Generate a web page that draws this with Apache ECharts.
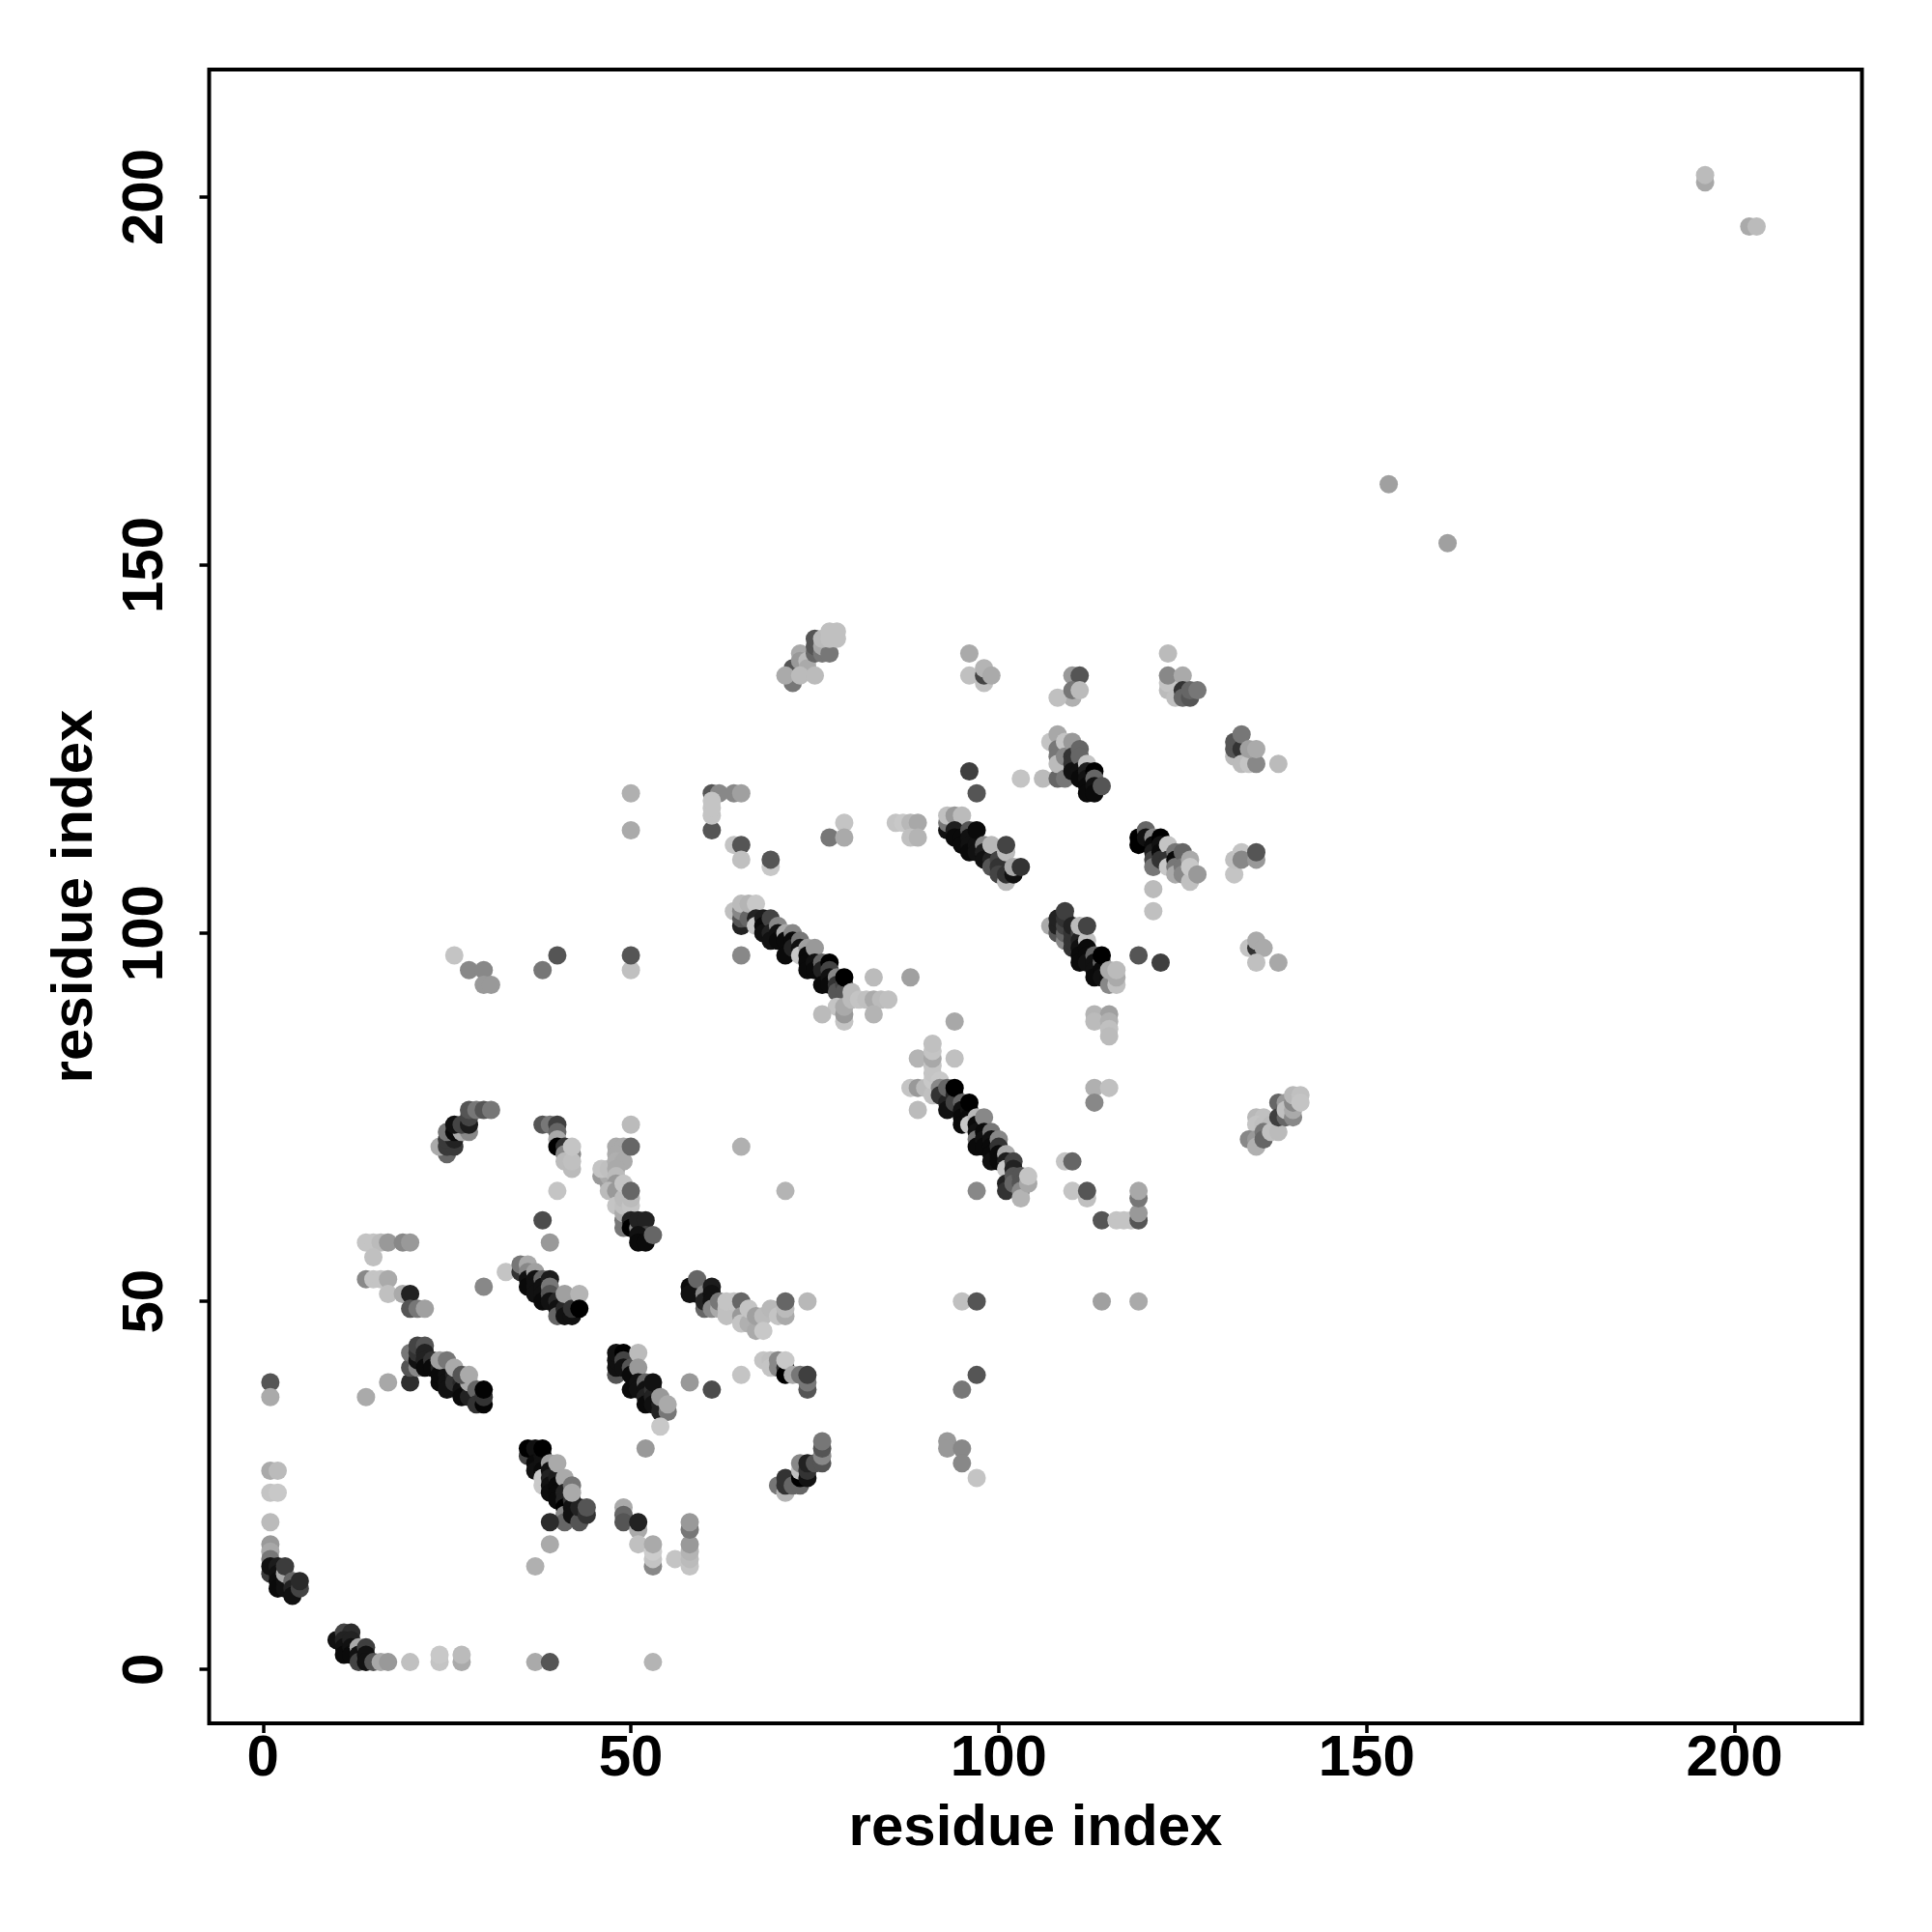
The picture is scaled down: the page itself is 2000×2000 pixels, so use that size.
<!DOCTYPE html>
<html><head><meta charset="utf-8">
<script src="https://cdn.jsdelivr.net/npm/echarts@6/dist/echarts.min.js"></script>
<style>html,body{margin:0;padding:0;background:#fff}#c{width:2000px;height:2000px}</style>
</head><body><div id="c"></div>
<script>
// each entry: residue x, residue y, grey level
const tickValues = [0, 50, 100, 150, 200];
const axisName = "residue index";
const clusterOrigin = [[1,39,85],[1,37,170],[14,37,170],[17,39,168],[1,27,170],[2,27,187],[1,24,196],[2,24,200],[1,20,187],[1,17,153],[1,16,168],[1,15,119],[1,13,60],[1,14,17],[2,14,28],[2,13,17],[2,12,12],[2,11,10],[3,12,17],[3,11,17],[3,13,170],[3,14,60],[4,12,102],[4,11,34],[4,10,17],[5,11,68],[5,12,42]];
const clusterStart = [[10,4,17],[11,5,68],[12,5,44],[11,4,34],[11,3,17],[11,2,10],[12,4,34],[12,3,17],[12,2,10],[13,3,170],[13,2,17],[13,1,68],[14,3,63],[14,2,17],[14,1,17],[15,1,85],[16,1,168],[17,1,153],[20,1,192],[24,1,196],[24,2,200],[27,1,170],[27,2,187],[37,1,170],[39,1,85],[53,1,180]];
const clusterA = [[20,39,46],[20,41,85],[20,43,119],[21,41,136],[21,42,17],[21,43,51],[21,44,68],[22,44,85],[22,43,34],[22,42,34],[22,41,10],[23,42,51],[23,41,10],[24,41,34],[24,39,10],[24,40,10],[25,40,17],[25,39,17],[26,38,200],[25,38,17],[26,40,34],[26,39,51],[27,39,40],[27,38,17],[27,37,10],[28,38,10],[28,37,34],[24,42,160],[25,42,119],[26,41,170],[28,39,170],[27,40,85],[28,40,170],[29,38,102],[29,36,51],[30,36,5],[30,37,51],[30,38,3]];
const clusterB = [[25,70,102],[24,71,170],[25,71,58],[26,71,58],[25,72,58],[26,72,34],[25,73,119],[26,73,10],[27,73,170],[28,73,136],[26,74,17],[27,74,68],[28,74,28],[28,75,68],[28,76,85],[29,76,119],[30,76,85],[31,76,119]];
const clusterC = [[38,74,85],[39,74,119],[40,74,63],[40,73,102],[40,72,170],[40,71,0],[41,71,51],[41,70,136],[42,70,136],[41,69,187],[42,68,187],[42,69,192],[42,71,196],[40,65,196],[38,61,76],[39,58,153]];
const clusterD = [[50,74,187],[46,67,153],[47,66,153],[47,67,170],[46,68,196],[47,68,192],[48,71,170],[49,71,170],[48,70,170],[48,69,175],[49,69,170],[48,68,170],[48,67,187],[48,66,153],[47,65,187],[48,65,153],[48,63,196],[49,60,119],[49,61,119],[49,62,170],[49,63,192],[49,64,187],[49,66,196],[50,71,102],[50,63,196],[50,64,187],[50,65,102],[50,61,34],[50,60,0],[51,60,136],[51,61,34],[52,61,34],[52,59,68],[51,59,17],[51,58,10],[52,58,10],[53,59,102]];
const clusterE = [[14,58,196],[15,58,196],[16,58,187],[17,58,153],[19,58,136],[20,58,153],[15,56,192],[14,53,136],[15,53,196],[16,53,196],[17,53,170],[17,51,192],[19,51,170],[20,51,34],[20,49,85],[21,49,119],[22,49,160],[30,52,136],[33,54,196]];
const clusterF = [[35,54,51],[35,55,119],[36,55,170],[36,54,136],[36,53,17],[36,52,10],[37,54,160],[37,53,17],[37,52,17],[37,51,17],[38,53,102],[38,52,17],[38,51,17],[38,50,10],[39,53,28],[39,52,119],[39,51,85],[39,50,17],[40,50,40],[40,49,17],[40,48,102],[41,49,40],[41,48,17],[41,51,160],[42,48,17],[42,49,51],[43,51,180],[43,49,0]];
const clusterG = [[36,29,68],[36,30,0],[37,30,17],[37,28,10],[37,27,17],[38,29,17],[38,28,17],[38,27,10],[38,26,200],[38,25,200],[38,30,0],[39,28,160],[39,27,17],[39,26,34],[39,25,17],[39,24,12],[40,26,30],[40,25,10],[40,24,10],[40,23,10],[40,28,170],[41,26,170],[41,24,34],[41,23,34],[41,22,0],[41,21,136],[41,20,102],[39,20,44],[39,17,170],[37,14,176],[42,23,51],[42,22,17],[42,21,17],[43,21,17],[43,20,85],[43,22,34],[42,25,119],[42,24,170],[44,21,51],[44,22,85]];
const clusterH = [[48,40,85],[48,41,17],[48,42,17],[48,43,17],[49,43,0],[49,42,68],[49,41,17],[50,41,85],[50,40,10],[50,38,10],[51,43,187],[51,41,153],[51,39,17],[51,38,17],[52,39,102],[52,38,17],[52,37,34],[52,36,10],[53,38,51],[53,37,34],[53,36,17],[53,39,17],[54,36,34],[54,35,34],[54,37,153],[55,35,119],[55,36,170],[54,33,200],[52,30,153],[58,39,153],[61,38,76],[65,40,196]];
const clusterI = [[49,22,170],[49,21,102],[49,20,85],[51,19,170],[51,20,34],[51,17,192],[53,14,136],[53,15,196],[53,16,204],[53,17,170],[56,15,196],[58,14,196],[58,15,187],[58,16,180],[58,17,153],[58,19,119],[58,20,153]];
const clusterJ = [[70,25,119],[71,24,180],[71,25,51],[71,26,51],[72,25,102],[73,25,102],[73,26,0],[73,27,192],[73,28,136],[74,26,17],[74,27,51],[74,28,34],[75,28,85],[76,28,85],[76,29,136],[76,30,85],[76,31,119]];
const clusterK = [[68,42,196],[69,42,192],[69,41,196],[70,41,136],[70,42,136],[71,41,51],[71,40,0],[71,42,200],[72,40,170],[73,40,119],[74,38,85],[74,39,119],[74,40,63]];
const clusterL = [[60,49,102],[59,52,17],[59,51,17],[58,52,12],[58,51,17],[59,53,102],[60,51,136],[60,50,34],[61,52,28],[61,51,17],[61,50,17],[61,49,136],[62,49,170],[62,50,119],[63,48,192],[63,49,192],[63,50,196],[64,50,196],[65,50,102],[65,48,153],[65,47,196],[66,47,176],[66,49,196],[67,46,170],[67,48,160],[68,48,187],[68,46,200],[69,49,184],[70,48,196],[71,48,170],[71,49,187],[71,50,102],[74,50,184]];
const clusterM = [[95,50,192],[97,50,85],[97,40,85],[95,38,119],[93,31,153],[93,30,153],[95,30,136],[95,28,136],[97,26,196],[114,50,160],[119,50,170]];
const clusterN = [[26,97,196],[28,95,136],[30,95,136],[30,93,153],[31,93,153],[40,97,85],[38,95,119],[50,95,192],[50,97,85],[65,97,136],[50,119,176],[50,114,170]];
const clusterO = [[65,101,34],[64,103,192],[65,102,85],[65,103,136],[65,104,187],[66,102,102],[66,104,180],[67,104,200],[67,102,34],[67,101,200],[68,102,28],[68,101,10],[68,100,17],[69,102,68],[69,100,34],[69,99,17],[70,101,136],[70,100,17],[70,99,10],[71,100,170],[71,99,10],[71,97,10],[72,100,136],[72,99,10],[72,98,34],[73,99,119],[73,98,17],[73,97,200],[74,98,160],[74,97,10],[74,96,10],[74,95,10],[75,98,153],[75,96,17],[75,95,10],[76,96,102],[76,95,34],[76,93,10],[77,96,0],[77,95,68],[77,94,17],[77,93,10],[78,94,136],[78,93,51],[78,92,85],[79,93,68],[79,92,85],[79,94,0]];
const clusterP = [[78,90,196],[76,89,187],[79,88,196],[79,89,153],[79,90,170],[80,91,187],[80,92,187],[81,91,196],[82,91,192],[83,91,170],[84,91,187],[85,91,192],[83,89,180],[83,94,187],[88,94,160]];
const clusterQ = [[61,119,85],[62,119,136],[64,119,136],[65,119,160],[61,114,85],[61,116,196],[61,117,196],[61,118,196],[64,112,196],[65,112,85],[65,110,192],[69,109,200],[69,110,85],[79,115,196],[77,113,119],[79,113,170],[86,115,196],[87,115,200],[88,115,184],[89,115,168],[88,113,192],[89,113,180]];
const clusterR = [[93,114,17],[93,115,119],[93,116,192],[94,116,153],[95,116,187],[94,114,30],[94,113,10],[95,113,10],[95,112,10],[96,114,85],[96,113,17],[96,112,17],[96,111,10],[97,112,17],[97,111,17],[97,114,10],[98,112,136],[98,111,30],[98,110,17],[99,110,34],[99,109,85],[99,112,184],[100,110,68],[100,109,51],[100,108,68],[101,107,187],[101,108,51],[101,111,187],[101,112,68],[102,108,17],[102,109,170],[103,109,51]];
const clusterS = [[96,122,63],[97,119,85],[103,121,196],[106,121,187],[108,121,102]];
const clusterT = [[88,79,196],[89,79,153],[90,79,187],[89,76,187],[89,83,180],[91,78,192],[91,80,200],[91,81,196],[91,82,196],[91,83,168],[91,84,196],[91,85,192],[92,80,200],[94,83,192],[94,88,168],[92,79,136],[92,78,51],[93,78,51],[93,77,34],[93,76,17],[93,79,102],[94,78,40],[94,77,68],[94,79,0],[95,77,102],[95,76,17],[95,75,10],[95,74,10],[96,76,17],[96,75,10],[96,74,200],[96,77,0],[97,75,184],[97,74,10],[97,73,17],[97,72,119],[97,71,10],[98,75,136],[98,73,10],[98,72,17],[98,71,10],[99,73,119],[99,72,17],[99,71,10],[99,70,10],[99,69,17],[100,72,136],[100,71,51],[100,70,10],[100,69,10],[101,70,170],[101,69,30],[101,68,200],[101,66,34],[101,65,51],[102,69,68],[102,68,34],[102,67,85],[102,66,102],[103,67,85],[103,66,85],[103,65,136],[103,64,180],[104,66,168],[104,67,196],[97,65,136]];
const clusterU = [[109,69,196],[110,69,102],[110,65,196],[112,64,192],[112,65,85],[114,61,85],[116,61,196],[117,61,196],[118,61,196],[119,61,85],[119,62,153],[119,64,119],[119,65,168]];
const clusterV = [[113,89,180],[115,89,160],[113,88,187],[115,88,176],[115,87,192],[115,86,187],[113,79,176],[115,79,192],[113,77,136]];
const clusterW = [[107,101,170],[108,100,85],[108,101,34],[108,102,34],[109,99,136],[109,100,102],[109,101,68],[109,102,51],[109,103,63],[110,98,51],[110,99,51],[110,100,51],[110,101,34],[111,100,68],[111,99,34],[111,98,17],[111,97,10],[111,96,10],[111,101,187],[112,99,192],[112,98,10],[112,97,10],[112,96,17],[112,101,68],[113,97,102],[113,96,17],[113,95,17],[113,94,10],[114,96,102],[114,95,10],[114,94,17],[114,97,0],[115,94,17],[115,93,136],[115,95,170],[116,93,192],[116,94,170],[116,95,187],[119,97,85],[122,96,63]];
const clusterX = [[134,98,196],[135,98,51],[135,99,170],[136,98,170],[135,96,192],[138,96,168]];
const clusterY = [[135,75,184],[136,75,192],[135,74,196],[136,74,192],[137,74,187],[134,72,136],[135,72,153],[135,71,176],[136,73,119],[136,72,102],[137,73,192],[138,73,187],[138,77,102],[138,75,63],[139,75,102],[139,77,153],[139,76,192],[140,75,136],[140,76,170],[140,77,136],[140,78,184],[141,78,192],[141,77,196]];
const clusterZ = [[96,138,170],[96,135,192],[98,134,192],[98,135,68],[98,136,180],[99,135,170],[110,135,153],[111,135,85],[110,132,176],[108,132,192],[110,133,119],[111,133,187],[123,138,187],[123,133,187],[123,134,196],[123,135,136],[125,135,170],[124,132,192],[125,133,51],[125,132,102],[126,132,85],[126,133,102],[127,133,119]];
const clusterAA = [[132,124,187],[132,125,85],[132,126,85],[133,125,51],[133,127,119],[133,123,187],[134,123,196],[135,123,136],[134,125,160],[135,125,170],[138,123,187]];
const clusterAB = [[107,126,196],[108,127,168],[108,125,119],[108,124,119],[108,123,187],[109,126,196],[109,124,136],[109,121,119],[110,126,153],[110,124,51],[110,123,51],[110,122,17],[111,125,102],[111,124,102],[111,122,17],[111,121,10],[112,123,196],[112,122,30],[112,121,17],[112,120,10],[112,119,10],[113,122,0],[113,121,102],[113,120,17],[113,119,10],[114,120,85]];
const clusterAC = [[119,113,0],[119,112,0],[120,114,102],[120,113,17],[121,113,136],[121,112,10],[121,111,30],[121,110,68],[121,109,119],[122,113,0],[122,112,17],[122,111,10],[122,110,51],[123,112,196],[123,110,51],[123,109,200],[124,111,119],[124,110,10],[124,109,119],[124,108,170],[125,111,102],[125,109,119],[125,108,136],[126,107,192],[126,110,170],[126,109,200],[127,108,153],[121,106,187],[121,103,192]];
const clusterAD = [[132,108,196],[132,110,192],[133,111,196],[133,110,136],[135,110,153],[135,111,85]];
const clusterAE = [[153,161,160],[161,153,160],[196,202,168],[196,203,187],[202,196,170],[203,196,187],[65,71,176],[71,65,180]];
const clusterAF = [[72,136,85],[72,134,119],[71,135,170],[73,138,170],[73,137,153],[74,137,187],[74,136,170],[73,135,187],[75,135,187],[75,138,102],[75,139,85],[75,140,85],[76,138,119],[76,139,170],[77,138,119],[76,140,187],[77,140,192],[77,141,192],[78,141,192],[78,140,192]];
const clusters = [clusterOrigin,clusterStart,clusterA,clusterB,clusterC,clusterD,clusterE,clusterF,clusterG,clusterH,clusterI,clusterJ,clusterK,clusterL,clusterM,clusterN,clusterO,clusterP,clusterQ,clusterR,clusterS,clusterT,clusterU,clusterV,clusterW,clusterX,clusterY,clusterZ,clusterAA,clusterAB,clusterAC,clusterAD,clusterAE,clusterAF];

const font = '"Liberation Sans", Arial, sans-serif';
const mkAxis = (isX) => ({
  type: 'value', min: -7.32, max: 217.32,
  name: axisName, nameLocation: 'middle',
  nameGap: isX ? 79 : 108,
  nameTextStyle: {fontFamily: font, fontWeight: 'bold', fontSize: 60, color: '#000'},
  splitLine: {show: false}, axisLine: {show: false, onZero: false},
  axisTick: {show: true, length: 10, lineStyle: {color: '#000', width: 3.5}, customValues: tickValues},
  axisLabel: {fontFamily: font, fontWeight: 'bold', fontSize: 60, color: '#000', margin: isX ? 7 : 35, rotate: isX ? 0 : 90,
    customValues: tickValues, hideOverlap: false, showMinLabel: true, showMaxLabel: true}
});
const chart = echarts.init(document.getElementById('c'), null, {renderer: 'canvas', width: 2000, height: 2000});
chart.setOption({
  animation: false, backgroundColor: '#fff',
  grid: {left: 216.5, top: 72, width: 1711, height: 1712, show: true, borderColor: '#000', borderWidth: 4, backgroundColor: 'transparent', containLabel: false},
  xAxis: mkAxis(true), yAxis: mkAxis(false),
  series: [{type: 'scatter', symbol: 'circle', symbolSize: 19, silent: true, large: false,
    data: clusters.flat().map(p => ({value: [p[0], p[1]], itemStyle: {color: `rgb(${p[2]},${p[2]},${p[2]})`, opacity: 1}}))}]
});
</script></body></html>
